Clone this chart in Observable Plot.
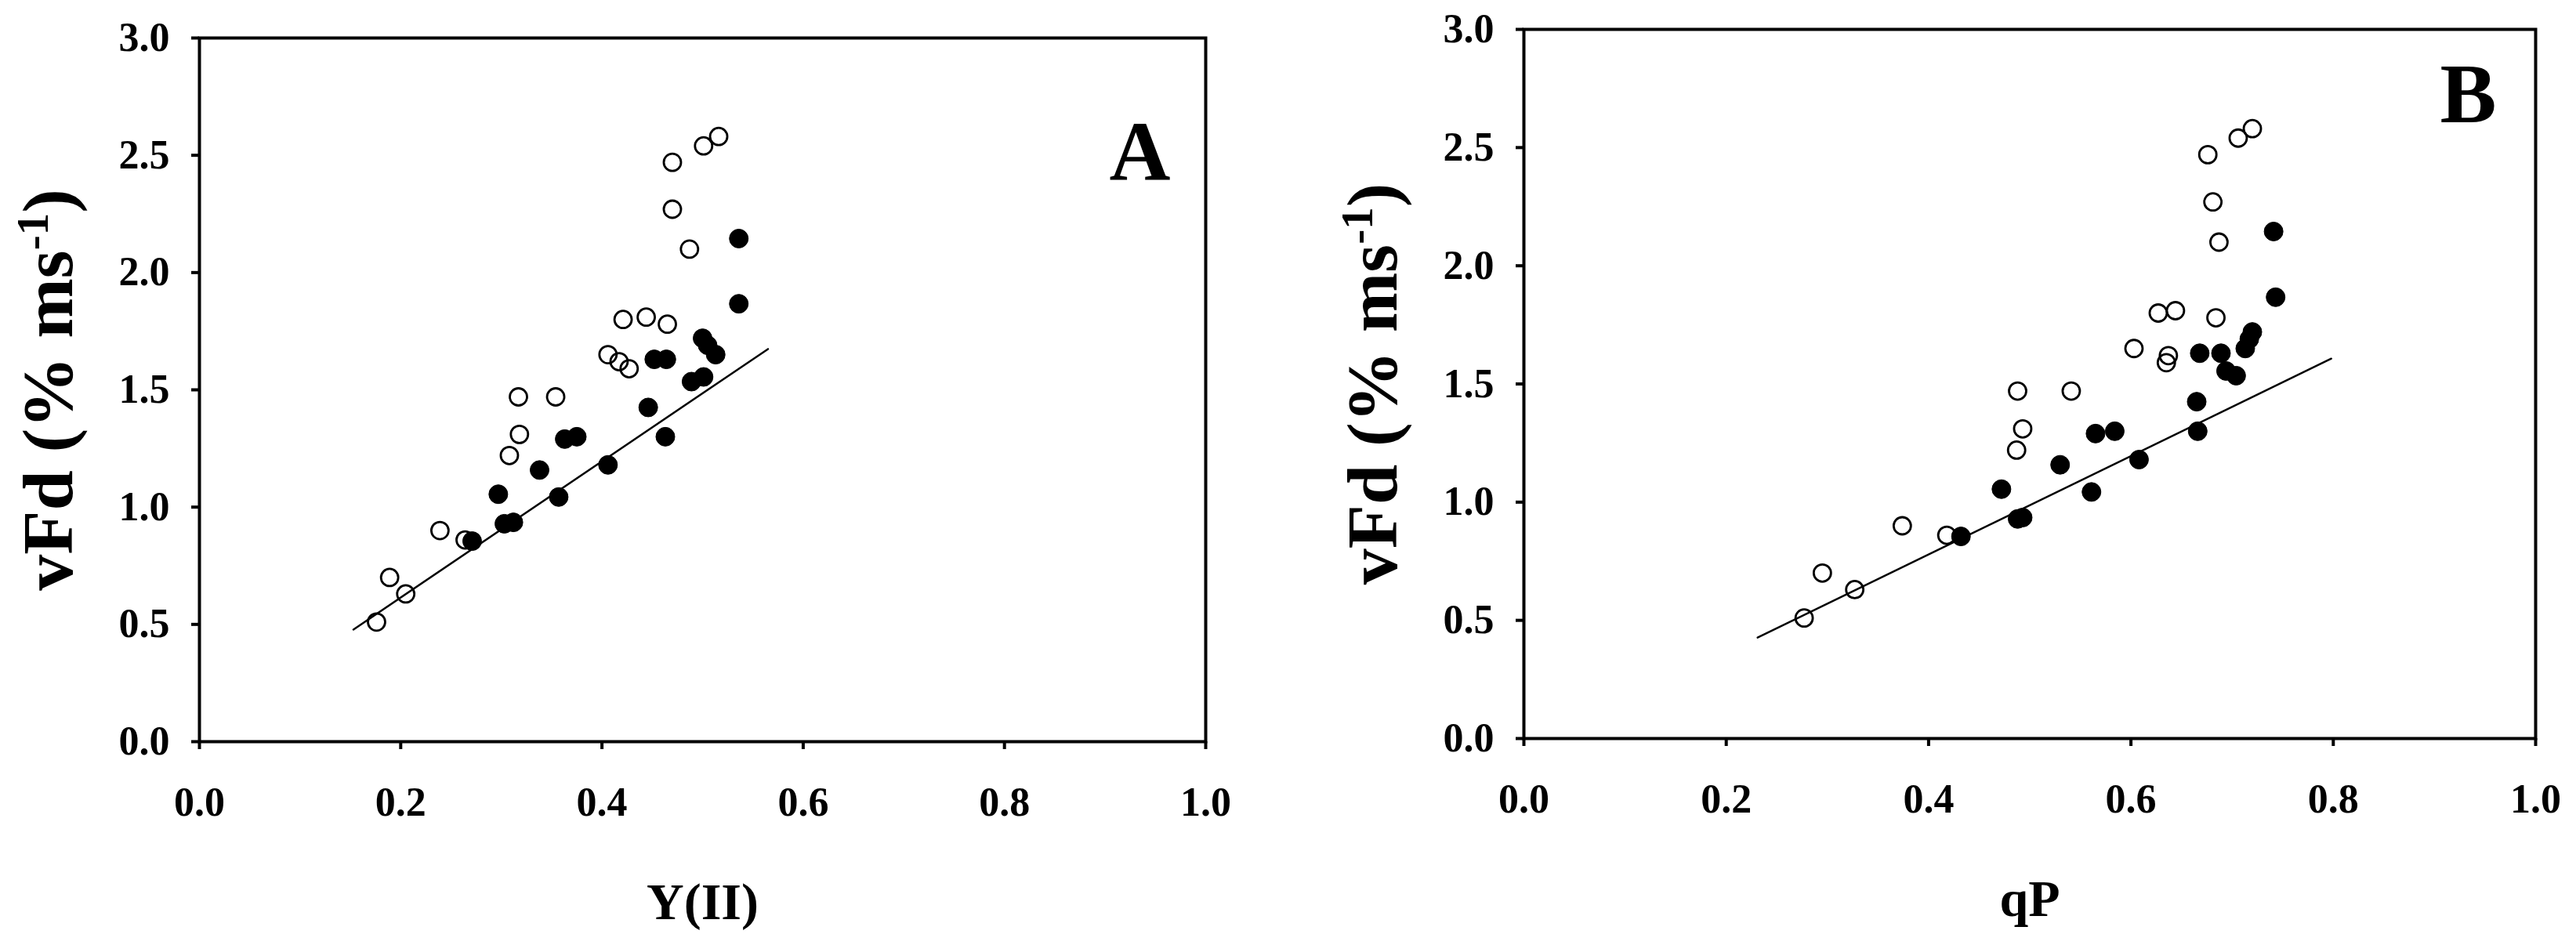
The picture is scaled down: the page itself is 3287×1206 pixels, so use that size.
<!DOCTYPE html>
<html>
<head>
<meta charset="utf-8">
<script src="https://cdn.jsdelivr.net/npm/d3@7"></script>
<script src="https://cdn.jsdelivr.net/npm/@observablehq/plot@0.6"></script>
<style>
  html, body { margin: 0; padding: 0; background: #fff; }
  #wrap { display: flex; width: 3287px; height: 1206px; }
  svg text { font-weight: bold; }
</style>
</head>
<body>
<div id="wrap"></div>
<script>
// vFd values (shared by both panels), open and filled symbols
const vfdOpen   = [0.51, 0.70, 0.63, 0.90, 0.86, 1.22, 1.31, 1.47, 1.47, 1.65, 1.62, 1.59, 1.80, 1.81, 1.78, 2.10, 2.27, 2.47, 2.54, 2.58];
const yiiOpen   = [0.176, 0.189, 0.205, 0.239, 0.264, 0.308, 0.318, 0.317, 0.354, 0.406, 0.417, 0.427, 0.421, 0.444, 0.465, 0.487, 0.470, 0.470, 0.501, 0.516];
const qpOpen    = [0.277, 0.295, 0.327, 0.374, 0.418, 0.487, 0.493, 0.488, 0.541, 0.603, 0.637, 0.635, 0.627, 0.644, 0.684, 0.687, 0.681, 0.676, 0.706, 0.720];

const vfdFilled = [0.855, 1.055, 0.929, 0.935, 1.158, 1.043, 1.29, 1.30, 1.18, 1.425, 1.63, 1.63, 1.30, 1.535, 1.555, 1.72, 1.69, 1.65, 1.867, 2.145];
const yiiFilled = [0.271, 0.297, 0.303, 0.312, 0.338, 0.357, 0.363, 0.375, 0.406, 0.446, 0.452, 0.464, 0.463, 0.489, 0.501, 0.500, 0.505, 0.513, 0.536, 0.536];
const qpFilled  = [0.432, 0.472, 0.488, 0.493, 0.530, 0.561, 0.565, 0.584, 0.608, 0.665, 0.668, 0.689, 0.666, 0.704, 0.694, 0.720, 0.717, 0.713, 0.743, 0.741];

// regression lines (end points)
const lineYiiX = [0.153, 0.565];
const lineYiiY = [0.478, 1.674];
const lineQpX  = [0.231, 0.798];
const lineQpY  = [0.427, 1.607];

// axes
const xTicks = [0, 0.2, 0.4, 0.6, 0.8, 1.0];
const yTicks = [0, 0.5, 1.0, 1.5, 2.0, 2.5, 3.0];
const yLabel = "vFd (% ms-1)";
const panelLetters = ["A", "B"];
const xLabels = ["Y(II)", "qP"];

const zip = (xs, ys) => xs.map((x, i) => ({x, y: ys[i]}));

function panel({letter, xLabel, openX, filledX, lineX, lineY, width, mL, mR, mT, mB, letterDx, letterDy}) {
  const svg = Plot.plot({
    width, height: 1206,
    marginLeft: mL, marginRight: mR, marginTop: mT, marginBottom: mB,
    style: {fontFamily: "Liberation Serif", background: "white", color: "black"},
    x: {domain: [0, 1]},
    y: {domain: [0, 3]},
    marks: [
      Plot.axisX({ticks: xTicks, tickFormat: d3.format(".1f"), tickSize: 10, tickPadding: 48, strokeWidth: 4, fontSize: 52, fontWeight: "bold", label: null}),
      Plot.axisY({ticks: yTicks, tickFormat: d3.format(".1f"), tickSize: 10, tickPadding: 28, strokeWidth: 4, fontSize: 52, fontWeight: "bold", label: null}),
      Plot.line(zip(lineX, lineY), {x: "x", y: "y", stroke: "black", strokeWidth: 2.5}),
      Plot.dot(zip(openX, vfdOpen), {x: "x", y: "y", r: 11, stroke: "black", strokeWidth: 2.8, fill: "none"}),
      Plot.dot(zip(filledX, vfdFilled), {x: "x", y: "y", r: 12, stroke: "black", strokeWidth: 1, fill: "black"}),
      Plot.frame({stroke: "black", strokeWidth: 4}),
      Plot.text([letter], {frameAnchor: "top-right", dx: letterDx, dy: letterDy, textAnchor: "end", lineAnchor: "top", fontSize: 108, fontWeight: "bold"}),
      Plot.text([xLabel], {frameAnchor: "bottom", dy: 205, textAnchor: "middle", lineAnchor: "middle", fontSize: 66, fontWeight: "bold"}),
      Plot.text([yLabel], {frameAnchor: "left", dx: -192, rotate: -90, textAnchor: "middle", lineAnchor: "middle", fontSize: 92, fontWeight: "bold"})
    ]
  });
  // superscript for the unit
  d3.select(svg).selectAll("text").filter(function() { return this.textContent === yLabel; })
    .each(function() {
      const t = d3.select(this);
      t.text(null);
      t.append("tspan").text("vFd (% ms");
      t.append("tspan").attr("baseline-shift", "super").attr("font-size", "62%").text("-1");
      t.append("tspan").text(")");
    });
  return svg;
}

const wrap = document.getElementById("wrap");
wrap.appendChild(panel({letter: panelLetters[0], xLabel: xLabels[0], openX: yiiOpen, filledX: yiiFilled, lineX: lineYiiX, lineY: lineYiiY,
  width: 1643, mL: 254, mR: 105, mT: 48, mB: 260, letterDx: -45, letterDy: 105}));
wrap.appendChild(panel({letter: panelLetters[1], xLabel: xLabels[1], openX: qpOpen, filledX: qpFilled, lineX: lineQpX, lineY: lineQpY,
  width: 1644, mL: 301, mR: 52, mT: 37, mB: 264, letterDx: -50, letterDy: 42}));
</script>
</body>
</html>
